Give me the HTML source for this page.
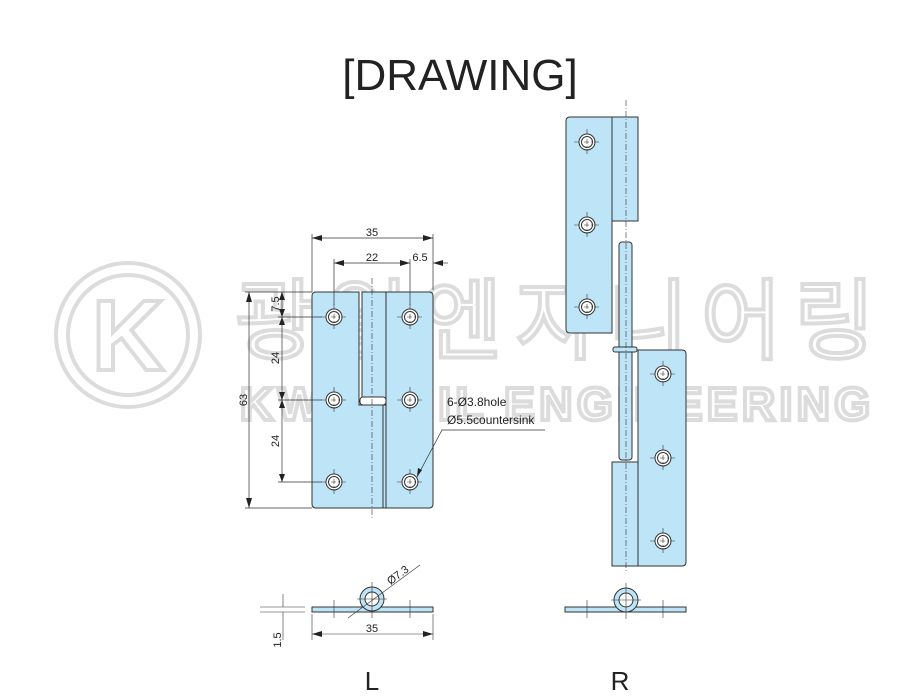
<!DOCTYPE html>
<html><head><meta charset="utf-8"><style>
html,body{margin:0;padding:0;background:#fff;}
svg{display:block;}
text{font-family:"Liberation Sans","Noto Sans CJK KR",sans-serif;}
</style></head><body>
<svg width="921" height="700" viewBox="0 0 921 700" xmlns="http://www.w3.org/2000/svg">
<defs>
<marker id="a" viewBox="0 0 10 6" refX="10" refY="3" markerWidth="10" markerHeight="6" orient="auto-start-reverse" markerUnits="userSpaceOnUse"><path d="M0,0 L10,3 L0,6 z" fill="#222"/></marker>
<g id="hole"><circle r="8" fill="#fff" stroke="#333" stroke-width="1"/><circle r="5.5" fill="#fff" stroke="#333" stroke-width="1"/><path d="M-13,0H13M0,-13V13" stroke="#333" stroke-width="0.6" stroke-dasharray="5,2,1,2"/></g>
</defs>
<!-- watermark -->
<g fill="none" stroke="#dcdcdc" stroke-width="4">
<circle cx="128" cy="335" r="72"/><circle cx="128" cy="335" r="60"/>
<text x="128" y="370" font-size="100" text-anchor="middle" font-weight="bold">K</text>
<text x="555" y="352" font-size="88" text-anchor="middle" textLength="640">광일엔지니어링</text>
<text x="555" y="420" font-size="46" text-anchor="middle" font-weight="bold" textLength="630">KWANGIL ENGINEERING</text>
</g>
<text x="460" y="90" font-size="44" text-anchor="middle" fill="#222">[DRAWING]</text>

<!-- L front -->
<g stroke="#333" stroke-width="1">
<path d="M316,292 H359 V405 H386 V508 H316 Q312,508 312,504 V296 Q312,292 316,292Z" fill="#bde4f7"/>
<path d="M362,292 H429 Q433,292 433,296 V504 Q433,508 429,508 H386 V404 H362Z" fill="#bde4f7"/>
<line x1="386" y1="292" x2="386" y2="508"/>
<line x1="383" y1="405" x2="383" y2="508"/>
<rect x="360" y="397" width="26" height="8" rx="3" fill="#fff"/>
</g>
<line x1="372" y1="278" x2="372" y2="520" stroke="#333" stroke-width="0.6" stroke-dasharray="6,2,1,2"/>
<use href="#hole" x="334" y="317"/><use href="#hole" x="410" y="317"/>
<use href="#hole" x="334" y="400"/><use href="#hole" x="410" y="400"/>
<use href="#hole" x="334" y="482"/><use href="#hole" x="410" y="482"/>
<!-- dims -->
<g stroke="#333" stroke-width="0.7">
<path d="M312,234V292M433,234V290M334,259V305M410,259V305M245,292H312M278,317H322M278,400H322M278,482H322M245,508H312"/>
<line x1="312" y1="238" x2="433" y2="238" marker-start="url(#a)" marker-end="url(#a)"/>
<line x1="334" y1="263" x2="410" y2="263" marker-start="url(#a)" marker-end="url(#a)"/>
<line x1="448" y1="263" x2="433" y2="263" marker-end="url(#a)"/>
<line x1="249" y1="292" x2="249" y2="508" marker-start="url(#a)" marker-end="url(#a)"/>
<line x1="282" y1="292" x2="282" y2="482"/>
<path d="M282,317l-3,-8h6z M282,317l-3,8h6z M282,400l-3,-8h6z M282,400l-3,8h6z M282,482l-3,-8h6z M282,292l-3,8h6z" fill="#222" stroke="none"/>
<polyline points="417,477 442,430 545,430" fill="none"/>
</g>
<path d="M417,477l1,-9 4,2z" fill="#222"/>
<g font-size="11" fill="#222">
<text x="372" y="236" text-anchor="middle">35</text>
<text x="372" y="261" text-anchor="middle">22</text>
<text x="420" y="261" text-anchor="middle">6.5</text>
<text transform="translate(247,400) rotate(-90)" text-anchor="middle">63</text>
<text transform="translate(279,304) rotate(-90)" text-anchor="middle">7.5</text>
<text transform="translate(279,358) rotate(-90)" text-anchor="middle">24</text>
<text transform="translate(279,441) rotate(-90)" text-anchor="middle">24</text>
<text x="447" y="406" font-size="12">6-Ø3.8hole</text>
<text x="447" y="424" font-size="12">Ø5.5countersink</text>
</g>

<!-- R front -->
<g stroke="#333" stroke-width="1" fill="#bde4f7">
<path d="M570,117 H638 V221 H612 V333 H570 Q566,333 566,329 V121 Q566,117 570,117Z"/>
<line x1="612" y1="117" x2="612" y2="221"/>
<rect x="619" y="242" width="13" height="218" rx="3"/>
<rect x="613" y="347" width="24" height="5" rx="2"/>
<path d="M638,350 H682 Q686,350 686,354 V562 Q686,566 682,566 H612 V462 H638Z"/>
<line x1="638" y1="462" x2="638" y2="566"/>
</g>
<line x1="626" y1="100" x2="626" y2="572" stroke="#333" stroke-width="0.6" stroke-dasharray="6,2,1,2"/>
<use href="#hole" x="587" y="142"/><use href="#hole" x="587" y="225"/><use href="#hole" x="587" y="307"/>
<use href="#hole" x="663" y="374"/><use href="#hole" x="663" y="458"/><use href="#hole" x="663" y="541"/>

<!-- bottom views -->
<g stroke="#333" stroke-width="1" fill="#bde4f7">
<rect x="312" y="607" width="121" height="5"/>
<circle cx="372" cy="599" r="12"/><circle cx="372" cy="599" r="7" fill="#fff"/>
<rect x="565" y="607" width="121" height="5"/>
<circle cx="626" cy="600" r="12"/><circle cx="626" cy="600" r="7" fill="#fff"/>
</g>
<g stroke="#333" stroke-width="0.6">
<path d="M372,582V618M357,599H387M626,583V619M611,600H641M334,600V618M410,600V618M587,600V618M663,600V618"/>
<path d="M260,607H305M260,612H305M283,594V607M283,612V640M312,614V640M433,614V640"/>
<line x1="312" y1="634" x2="433" y2="634" marker-start="url(#a)" marker-end="url(#a)"/>
<line x1="348" y1="618" x2="420" y2="565"/>
</g>
<g font-size="11" fill="#222">
<text x="372" y="632" text-anchor="middle">35</text>
<text transform="translate(281,640) rotate(-90)" text-anchor="middle">1.5</text>
<text transform="translate(400,578) rotate(-37)" text-anchor="middle">Ø7.3</text>
</g>
<text x="372" y="690" font-size="26" text-anchor="middle" fill="#222">L</text>
<text x="620" y="690" font-size="26" text-anchor="middle" fill="#222">R</text>
</svg>
</body></html>
